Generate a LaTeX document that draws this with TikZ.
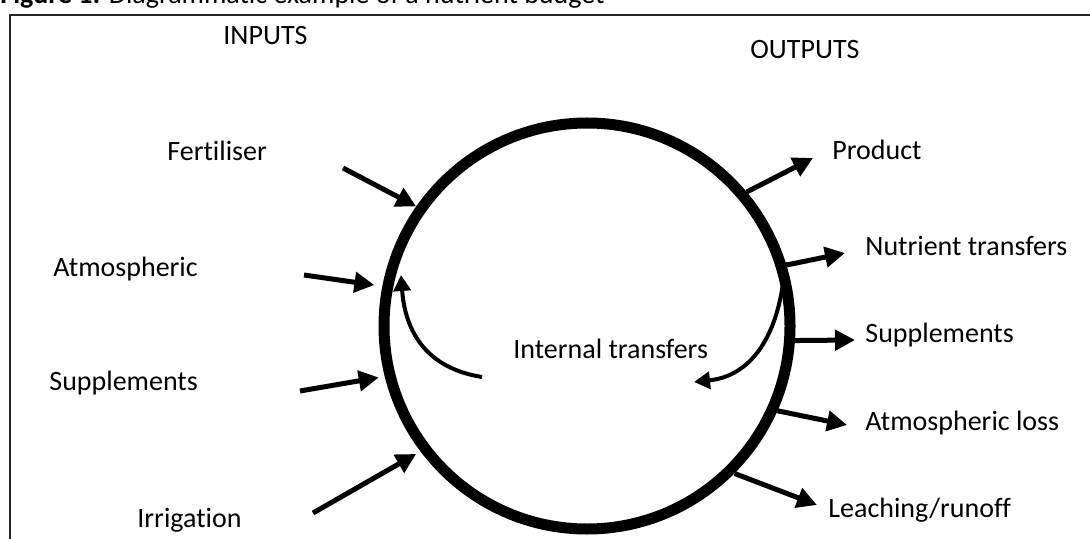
\documentclass[tikz,border=0pt]{standalone}
\usepackage{fontspec}
\setmainfont[Ligatures=NoCommon]{Carlito}
\usetikzlibrary{arrows.meta}
\begin{document}
\begin{tikzpicture}[x=0.5pt, y=-0.5pt,
    label/.style = {anchor=base west, inner sep=0pt, font=\fontsize{14}{16}\selectfont},
    flow/.style = {line width=2.5pt, -{Triangle[length=10pt,width=10pt]}},
    swirl/.style = {line width=2pt, -{Triangle[length=8pt,width=8.5pt]}}]
  \useasboundingbox (0,0) rectangle (1090,539);
  \clip (0,0) rectangle (1090,539);
  % caption and frame
  \node[label] (caption) at (0,4) {\textbf{Figure 1:} Diagrammatic example of a nutrient budget};
  \draw[line width=1.25pt, black!85] (10,560) -- (10,15) -- (1100,15);
  % headings
  \node[label] (inputs) at (223,45) {INPUTS};
  \node[label] (outputs) at (750,59) {OUTPUTS};
  % the budget
  \node[draw, circle, line width=5.5pt, minimum size=203pt, inner sep=0pt] (budget) at (587,326) {};
  % inputs
  \node[label] (fert) at (167,161) {Fertiliser};
  \node[label] (atmos) at (53,277) {Atmospheric};
  \node[label] (suppin) at (49,390) {Supplements};
  \node[label] (irrig) at (137,527) {Irrigation};
  \coordinate (fert-tail) at (343,168);
  \coordinate (atmos-tail) at (304,275);
  \coordinate (suppin-tail) at (300,391);
  \coordinate (irrig-tail) at (313,513);
  \draw[flow] (fert-tail) -- (budget.145);
  \draw[flow, shorten >=4pt] (atmos-tail) -- (budget.169);
  \draw[flow, shorten >=3pt] (suppin-tail) -- (budget.194);
  \draw[flow, shorten >=2.5pt] (irrig-tail) -- (budget.217);
  % outputs
  \node[label] (prod) at (832,160) {Product};
  \node[label] (nutr) at (865,256) {Nutrient transfers};
  \node[label] (suppout) at (865,343) {Supplements};
  \node[label] (atmloss) at (865,430) {Atmospheric loss};
  \node[label] (leach) at (828,517) {Leaching/runoff};
  \coordinate (prod-tip) at (813,158);
  \coordinate (nutr-tip) at (845,253);
  \coordinate (suppout-tip) at (855,340);
  \coordinate (atmloss-tip) at (847,425);
  \coordinate (leach-tip) at (817,505);
  \draw[flow] (budget.40) -- (prod-tip);
  \draw[flow] (budget.17) -- (nutr-tip);
  \draw[flow] (budget.356) -- (suppout-tip);
  \draw[flow] (budget.336) -- (atmloss-tip);
  \draw[flow] (budget.315.6) -- (leach-tip);
  % internal transfers
  \node[label] (internal) at (513,358) {Internal transfers};
  \coordinate (swirl-a) at (482,377);
  \coordinate (swirl-a-tip) at (401,275);
  \coordinate (swirl-b) at (785,262);
  \coordinate (swirl-b-tip) at (694,382);
  \draw[swirl] (swirl-a) .. controls (425,368) and (405,330) .. (swirl-a-tip);
  \draw[swirl] (swirl-b) .. controls (782,320) and (760,375) .. (swirl-b-tip);
\end{tikzpicture}
\end{document}
